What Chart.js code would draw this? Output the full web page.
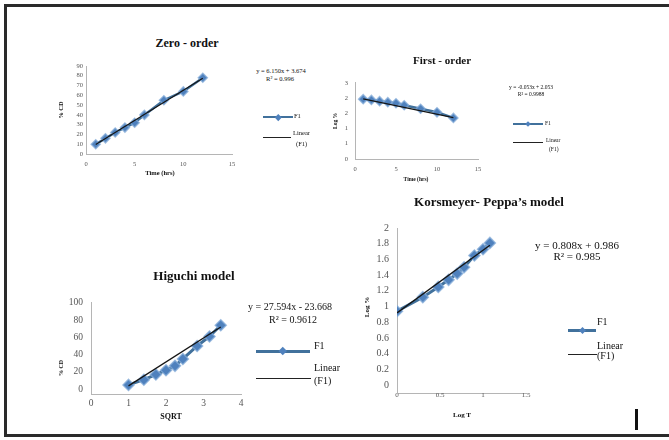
<!DOCTYPE html>
<html><head><meta charset="utf-8">
<script src="https://cdn.jsdelivr.net/npm/chart.js@4.4.1/dist/chart.umd.min.js"></script>
<style>
html,body{margin:0;padding:0;background:#fff;overflow:hidden;}
#page{position:relative;width:669px;height:440px;overflow:hidden;background:#fff;font-family:"Liberation Serif","Times New Roman",serif;}
#frame{position:absolute;left:4px;top:4px;width:690px;height:427px;border-top:3px solid #2a2a2a;border-left:3px solid #2a2a2a;border-bottom:3px solid #2a2a2a;}
canvas{position:absolute;}
.t{position:absolute;white-space:nowrap;color:#111;line-height:1;}
</style></head>
<body><div id="page"><div id="frame"></div></div>
<script>
// ---------- data ----------
const timeHrs   = [1, 2, 3, 4, 5, 6, 8, 10, 12];
const zeroCum   = [10, 16, 22, 27, 32, 40, 55, 64, 78];
const firstLog  = [2.36, 2.33, 2.28, 2.24, 2.2, 2.12, 1.98, 1.84, 1.62];
const sqrtT     = [1, 1.41, 1.73, 2, 2.24, 2.45, 2.83, 3.16, 3.46];
const higuchiCum= [5, 11, 17, 22, 27, 35, 50, 61, 74];
const logT      = [0, 0.3, 0.48, 0.6, 0.7, 0.78, 0.9, 1, 1.08];
const kpLog     = [0.94, 1.12, 1.25, 1.34, 1.42, 1.5, 1.65, 1.73, 1.81];

const zeroTrendX = [1, 12],   zeroTrendY = [9.8, 77.5];
const firstTrendX = [1, 12],  firstTrendY = [2.37, 1.63];
const higTrendX = [1, 3.46],  higTrendY = [3.9, 71.9];
const kpTrendX = [0, 1.08],   kpTrendY = [0.92, 1.78];

const zeroXTicks = [0, 5, 10, 15];
const zeroYTicks = [0, 10, 20, 30, 40, 50, 60, 70, 80, 90];
const firstXTicks = [0, 5, 10, 15];
const firstYTicks = [0, 0.6, 1.2, 1.8, 2.4, 3];
const firstYLabels = ['0', '1', '1', '2', '2', '3'];
const higXTicks = [0, 1, 2, 3, 4];
const higYTicks = [0, 20, 40, 60, 80, 100];
const kpXTicks = [0, 0.5, 1, 1.5];
const kpYTicks = [0, 0.2, 0.4, 0.6, 0.8, 1, 1.2, 1.4, 1.6, 1.8, 2];

// ---------- helpers ----------
const PAGE = document.getElementById('page');
function txt(s, x, y, size, o = {}) {
  const d = document.createElement('div');
  d.className = 't';
  d.textContent = s;
  d.style.left = x + 'px'; d.style.top = y + 'px';
  d.style.fontSize = size + 'px';
  if (o.bold) d.style.fontWeight = 'bold';
  if (o.color) d.style.color = o.color;
  let tr = o.align === 'left' ? 'translate(0,-50%)' : 'translate(-50%,-50%)';
  if (o.rot) tr += ' rotate(-90deg)';
  d.style.transform = tr;
  PAGE.appendChild(d);
}
function legLine(x1, x2, y, color, w, ds) {
  const d = document.createElement('div');
  d.style.cssText = `position:absolute;left:${x1}px;top:${y - w / 2}px;width:${x2 - x1}px;height:${w}px;background:${color}`;
  PAGE.appendChild(d);
  if (ds) {
    const m = document.createElement('div');
    m.style.cssText = `position:absolute;left:${(x1 + x2) / 2 - ds / 2}px;top:${y - ds / 2}px;width:${ds}px;height:${ds}px;background:#4f81bd;transform:rotate(45deg)`;
    PAGE.appendChild(m);
  }
}
function makeChart(box, o) {
  const c = document.createElement('canvas');
  c.width = box.w; c.height = box.h;
  c.style.left = box.x + 'px'; c.style.top = box.y + 'px';
  c.style.width = box.w + 'px'; c.style.height = box.h + 'px';
  PAGE.appendChild(c);
  const font = (s) => ({ family: 'Liberation Serif', size: s });
  return new Chart(c, {
    type: 'scatter',
    data: { datasets: [
      { label: 'Linear (F1)', data: o.tx.map((x, i) => ({ x, y: o.ty[i] })), showLine: true,
        borderColor: '#151515', borderWidth: o.tw, pointRadius: 0, order: 0 },
      { label: 'F1', data: o.xs.map((x, i) => ({ x, y: o.ys[i] })), showLine: true,
        borderColor: '#41719c', borderWidth: o.lw, pointStyle: 'rectRot', pointRadius: o.pr,
        pointBackgroundColor: '#4f81bd', pointBorderColor: 'rgba(130,170,215,0.75)', pointBorderWidth: 1.5, order: 1 }
    ]},
    options: {
      responsive: false, animation: false, devicePixelRatio: 1,
      layout: { padding: { top: 10, right: 15, left: 0, bottom: 0 } },
      plugins: { legend: { display: false }, tooltip: { enabled: false }, title: { display: false } },
      scales: {
        x: { type: 'linear', min: o.xmin, max: o.xmax,
          grid: { display: false, drawTicks: false }, border: { color: '#b5b5b5', width: 1 },
          afterBuildTicks: s => { s.ticks = o.xticks.map(v => ({ value: v })); },
          afterFit: s => { s.height = o.xh; },
          ticks: { font: font(o.xfs), color: '#555', padding: o.xpad, autoSkip: false, maxRotation: 0,
            callback: (v, i) => String(o.xticks[i]) } },
        y: { type: 'linear', min: o.ymin, max: o.ymax,
          grid: { display: false, drawTicks: false }, border: { color: '#b5b5b5', width: 1 },
          afterBuildTicks: s => { s.ticks = o.yticks.map(v => ({ value: v })); },
          afterFit: s => { s.width = 30; },
          ticks: { font: font(o.yfs), color: '#555', padding: o.ypad, autoSkip: false,
            callback: (v, i) => o.ylabels ? o.ylabels[i] : String(o.yticks[i]) } }
      }
    }
  });
}

// ---------- Zero-order ----------
makeChart({ x: 56, y: 56, w: 191, h: 120 }, {
  xs: timeHrs, ys: zeroCum, tx: zeroTrendX, ty: zeroTrendY,
  xmin: 0, xmax: 15, ymin: 0, ymax: 90, xticks: zeroXTicks, yticks: zeroYTicks,
  xh: 22, xfs: 6.5, yfs: 6.5, xpad: 6, ypad: 3, lw: 2.5, tw: 1.2, pr: 4.5 });
txt('Zero - order', 187, 43, 12, { bold: true });
txt('Time (hrs)', 160, 173, 6.5, { bold: true });
txt('% CD', 61, 110, 6.5, { bold: true, rot: true });
txt('y = 6.150x + 3.674', 281, 71, 6.5);
txt('R² = 0.996', 280, 79, 6.5);
legLine(263, 293, 117, '#41719c', 2.5, 4.5);
txt('F1', 294, 116, 6.5, { align: 'left' });
legLine(263, 291, 137, '#222', 1, 0);
txt('Linear', 293, 133, 6.5, { align: 'left' });
txt('(F1)', 296, 144, 6.5, { align: 'left' });

// ---------- First-order ----------
makeChart({ x: 325, y: 72, w: 168, h: 109 }, {
  xs: timeHrs, ys: firstLog, tx: firstTrendX, ty: firstTrendY,
  xmin: 0, xmax: 15, ymin: 0, ymax: 3, xticks: firstXTicks, yticks: firstYTicks, ylabels: firstYLabels,
  xh: 22, xfs: 6.5, yfs: 6.5, xpad: 6, ypad: 7, lw: 2.5, tw: 1.2, pr: 4.5 });
txt('First - order', 442, 60, 11, { bold: true });
txt('Time (hrs)', 416, 180, 5.5, { bold: true });
txt('Log %', 336, 121, 5.5, { bold: true, rot: true });
txt('y = -0.053x + 2.053', 531, 88, 5.5);
txt('R² = 0.9988', 531, 95, 5.5);
legLine(513, 543, 124, '#41719c', 2.5, 4);
txt('F1', 545, 124, 5.5, { align: 'left' });
legLine(513, 543, 142, '#222', 1, 0);
txt('Linear', 546, 141, 5.5, { align: 'left' });
txt('(F1)', 549, 150, 5.5, { align: 'left' });

// ---------- Korsmeyer-Peppa ----------
makeChart({ x: 367, y: 214, w: 174, h: 199 }, {
  xs: logT, ys: kpLog, tx: kpTrendX, ty: kpTrendY,
  xmin: 0, xmax: 1.5, ymin: -0.1, ymax: 2, xticks: kpXTicks, yticks: kpYTicks,
  xh: 20, xfs: 7, yfs: 10, xpad: -2, ypad: 8, lw: 3, tw: 1.3, pr: 5.5 });
txt('Korsmeyer- Peppa\u2019s model', 489, 201, 13, { bold: true });
txt('Log T', 462, 415, 7, { bold: true });
txt('Log %', 367, 307, 7, { bold: true, rot: true });
txt('y = 0.808x + 0.986', 577, 245, 11);
txt('R² = 0.985', 577, 256, 11);
legLine(568, 596, 330, '#41719c', 3, 5);
txt('F1', 597, 322, 10, { align: 'left' });
legLine(568, 597, 354, '#222', 1, 0);
txt('Linear', 597, 346, 10, { align: 'left' });
txt('(F1)', 597, 356, 10, { align: 'left' });

// ---------- Higuchi ----------
makeChart({ x: 61, y: 289, w: 195, h: 127 }, {
  xs: sqrtT, ys: higuchiCum, tx: higTrendX, ty: higTrendY,
  xmin: 0, xmax: 4, ymin: -5.5, ymax: 100, xticks: higXTicks, yticks: higYTicks,
  xh: 22, xfs: 9.5, yfs: 9.5, xpad: 4, ypad: 8, lw: 3, tw: 1.3, pr: 5.5 });
txt('Higuchi model', 194, 275, 13, { bold: true });
txt('SQRT', 171, 417, 8, { bold: true });
txt('% CD', 61, 368, 6, { bold: true, rot: true });
txt('y = 27.594x - 23.668', 290, 307, 10);
txt('R² = 0.9612', 293, 320, 10);
legLine(256, 310, 351, '#41719c', 3, 5.5);
txt('F1', 314, 346, 10, { align: 'left' });
legLine(256, 311, 378, '#222', 1, 0);
txt('Linear', 314, 368, 10, { align: 'left' });
txt('(F1)', 314, 381, 10, { align: 'left' });

// cursor-like bar at bottom right
const bar = document.createElement('div');
bar.style.cssText = 'position:absolute;left:635px;top:409px;width:2.5px;height:21px;background:#111';
PAGE.appendChild(bar);
</script>
</body></html>
